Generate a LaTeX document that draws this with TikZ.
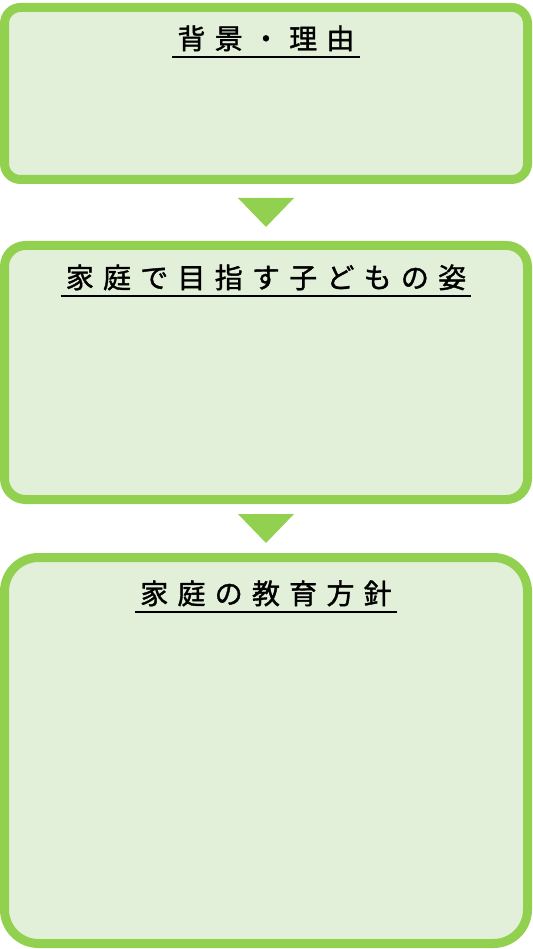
\documentclass[tikz,border=0pt]{standalone}
\usepackage{fontspec}
\newfontfamily\jpfont[LetterSpace=33,FakeBold=1.3]{Noto Sans CJK JP}
\usetikzlibrary{calc}
\definecolor{leaf}{HTML}{92D050}
\definecolor{leafpale}{HTML}{E2EFD9}

\begin{document}
\begin{tikzpicture}[x=1pt,y=-1pt,
	panel/.style={draw=leaf, fill=leafpale, line width=9pt, minimum width=523pt},
	heading/.style={font=\jpfont\fontsize{28}{34}\selectfont, anchor=base, inner xsep=5pt, inner ysep=0pt},
	headline/.style={line width=2.2pt},
	pointer/.style={fill=leaf}]
				\useasboundingbox (0,0) rectangle (532,949);
				% three stages
				\node[panel, rounded corners=16pt, minimum height=172pt] (B) at (266,93.5) {};
				\node[panel, rounded corners=21pt, minimum height=254pt] (G) at (266,372.5) {};
				\node[panel, rounded corners=34pt, minimum height=386pt] (P) at (266,750.5) {};
				
				\node[heading] (Bt) at (266,49) {背景・理由};
				\node[heading] (Gt) at (266,288) {家庭で目指す子どもの姿};
				\node[heading] (Pt) at (266,604) {家庭の教育方針};
				
				\draw[headline] ([yshift=-8pt]Bt.base west) -- ([yshift=-8pt]Bt.base east);
				\draw[headline] ([yshift=-8pt]Gt.base west) -- ([yshift=-8pt]Gt.base east);
				\draw[headline] ([yshift=-8pt]Pt.base west) -- ([yshift=-8pt]Pt.base east);
				
				\coordinate (BG) at ($(B.south)!0.5!(G.north)$);
				\coordinate (GP) at ($(G.south)!0.5!(P.north)$);
				\fill[pointer] ([shift={(-28pt,14.5pt)}]BG) -- ([shift={(28pt,14.5pt)}]BG) -- ([yshift=-14.5pt]BG) -- cycle;
				\fill[pointer] ([shift={(-28pt,14.5pt)}]GP) -- ([shift={(28pt,14.5pt)}]GP) -- ([yshift=-14.5pt]GP) -- cycle;
			\end{tikzpicture}
\end{document}
